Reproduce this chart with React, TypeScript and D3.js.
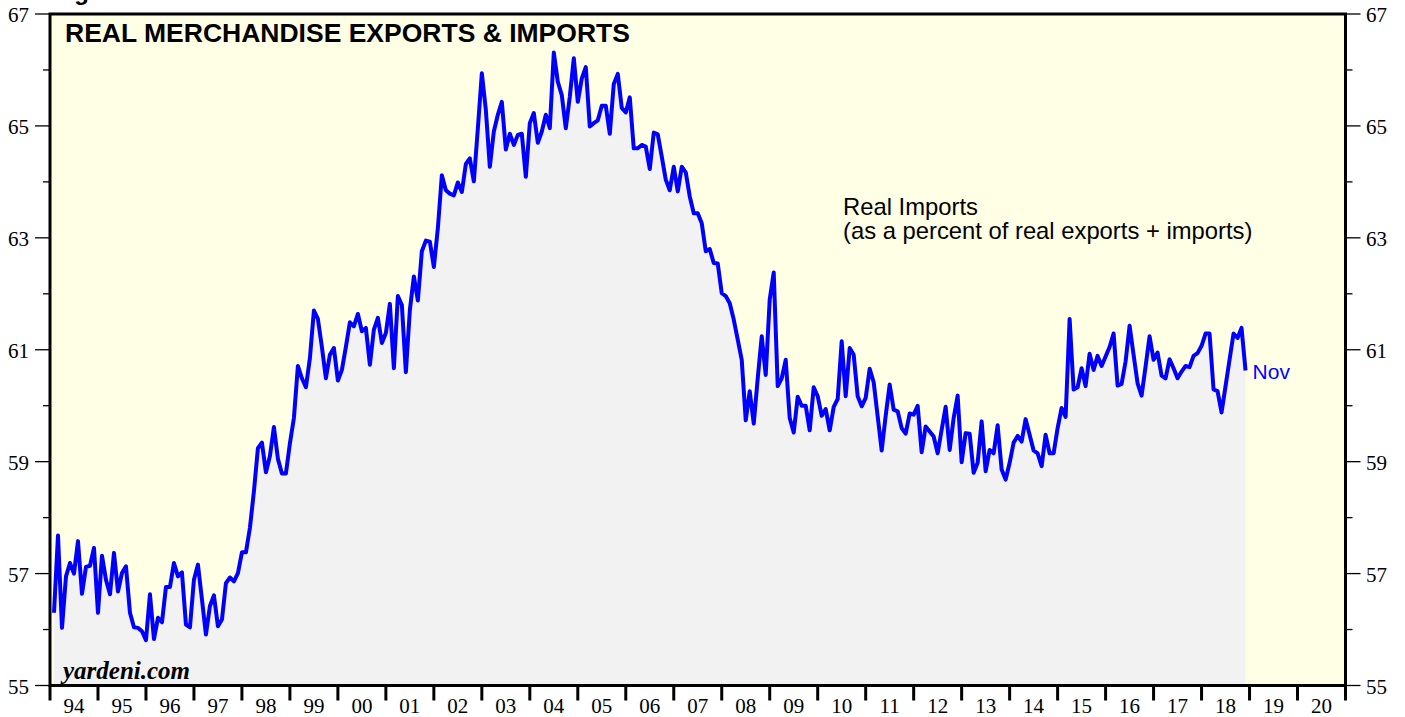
import React from "react";
import * as d3 from "d3";

// Real imports as % of real exports + imports, monthly Jan 1994 .. Nov 2018
const imports1994 = [56.30, 57.68, 56.03, 56.95, 57.19, 57.00, 57.58, 56.64, 57.12, 57.14, 57.46, 56.30];
const imports1995 = [57.32, 56.89, 56.63, 57.37, 56.68, 57.01, 57.13, 56.30, 56.04, 56.03, 55.97, 55.81];
const imports1996 = [56.63, 55.83, 56.21, 56.13, 56.76, 56.76, 57.19, 56.95, 57.02, 56.09, 56.04, 56.89];
const imports1997 = [57.16, 56.54, 55.91, 56.42, 56.61, 56.06, 56.18, 56.83, 56.93, 56.86, 57.01, 57.38];
const imports1998 = [57.38, 57.82, 58.47, 59.24, 59.34, 58.81, 59.10, 59.62, 59.05, 58.79, 58.79, 59.33];
const imports1999 = [59.78, 60.71, 60.49, 60.33, 60.85, 61.70, 61.55, 61.05, 60.49, 60.91, 61.03, 60.45];
const imports2000 = [60.64, 61.05, 61.49, 61.42, 61.64, 61.33, 61.39, 60.73, 61.36, 61.57, 61.12, 61.30];
const imports2001 = [61.82, 60.67, 61.96, 61.80, 60.60, 61.71, 62.31, 61.88, 62.76, 62.95, 62.93, 62.48];
const imports2002 = [63.17, 64.12, 63.85, 63.79, 63.76, 63.99, 63.82, 64.32, 64.42, 64.01, 64.95, 65.94];
const imports2003 = [65.29, 64.27, 64.90, 65.20, 65.43, 64.58, 64.86, 64.66, 64.84, 64.86, 64.09, 65.05];
const imports2004 = [65.23, 64.70, 64.90, 65.20, 64.96, 66.31, 65.79, 65.55, 64.96, 65.52, 66.21, 65.43];
const imports2005 = [65.85, 66.05, 64.99, 65.05, 65.10, 65.36, 65.36, 64.86, 65.75, 65.93, 65.32, 65.24];
const imports2006 = [65.51, 64.60, 64.60, 64.66, 64.63, 64.23, 64.88, 64.85, 64.45, 64.04, 63.85, 64.27];
const imports2007 = [63.83, 64.27, 64.17, 63.74, 63.44, 63.44, 63.26, 62.76, 62.80, 62.55, 62.54, 62.01];
const imports2008 = [61.96, 61.83, 61.54, 61.18, 60.82, 59.74, 60.26, 59.68, 60.49, 61.24, 60.55, 61.90];
const imports2009 = [62.38, 60.35, 60.49, 60.82, 59.78, 59.52, 60.16, 60.00, 60.00, 59.56, 60.33, 60.17];
const imports2010 = [59.82, 59.94, 59.56, 59.98, 60.12, 61.15, 60.17, 61.03, 60.91, 60.17, 59.99, 60.14];
const imports2011 = [60.66, 60.42, 59.81, 59.20, 59.82, 60.38, 59.93, 59.90, 59.60, 59.50, 59.86, 59.84];
const imports2012 = [60.00, 59.17, 59.63, 59.54, 59.45, 59.15, 59.57, 59.98, 59.21, 59.78, 60.18, 58.99];
const imports2013 = [59.51, 59.50, 58.80, 58.98, 59.72, 58.83, 59.21, 59.15, 59.65, 58.86, 58.68, 58.98];
const imports2014 = [59.34, 59.46, 59.36, 59.76, 59.48, 59.20, 59.15, 58.92, 59.48, 59.15, 59.15, 59.60];
const imports2015 = [59.96, 59.80, 61.55, 60.29, 60.33, 60.67, 60.35, 60.93, 60.64, 60.89, 60.71, 60.88];
const imports2016 = [61.05, 61.29, 60.36, 60.39, 60.79, 61.43, 60.91, 60.40, 60.18, 60.70, 61.24, 60.82];
const imports2017 = [60.95, 60.54, 60.49, 60.83, 60.67, 60.49, 60.61, 60.71, 60.69, 60.89, 60.94, 61.07];
const imports2018 = [61.29, 61.29, 60.29, 60.26, 59.88, 60.35, 60.82, 61.29, 61.21, 61.39, 60.63];

const yearLabels = ["94", "95", "96", "97", "98", "99", "00", "01", "02", "03", "04", "05", "06", "07",
  "08", "09", "10", "11", "12", "13", "14", "15", "16", "17", "18", "19", "20"];
const yTicks = [55, 56, 57, 58, 59, 60, 61, 62, 63, 64, 65, 66, 67];
const yLabels = [55, 57, 59, 61, 63, 65, 67];

const allValues = [
  ...imports1994, ...imports1995, ...imports1996, ...imports1997, ...imports1998,
  ...imports1999, ...imports2000, ...imports2001, ...imports2002, ...imports2003,
  ...imports2004, ...imports2005, ...imports2006, ...imports2007, ...imports2008,
  ...imports2009, ...imports2010, ...imports2011, ...imports2012, ...imports2013,
  ...imports2014, ...imports2015, ...imports2016, ...imports2017, ...imports2018,
];

export default function App() {
  const W = 1405, H = 717;
  const L = 50, R = 1345.5, T = 14, B = 685.5;
  const x = d3.scaleLinear().domain([1994, 2021]).range([L, R]);
  const y = d3.scaleLinear().domain([55, 67]).range([B, T]);
  const data = allValues.map((v, i) => ({ t: 1994 + (i + 1) / 12, v }));
  const line = d3.line<any>().x((d) => x(d.t)).y((d) => y(d.v));
  const area = d3.area<any>().x((d) => x(d.t)).y0(y(55)).y1((d) => y(d.v));
  const last = data[data.length - 1];
  const sans = "'Liberation Sans', Arial, sans-serif";
  const serif = "'Liberation Serif', 'Times New Roman', serif";

  return (
    <svg width={W} height={H} style={{ position: "absolute", left: 0, top: 0, background: "#fff" }}>
      <text x={53} y={0} fontFamily={sans} fontWeight="bold" fontSize={24} fill="#000">Figure</text>
      <rect x={L} y={T} width={R - L} height={B - T} fill="#FFFFE6" />
      <path d={area(data) || ""} fill="#F2F2F2" />
      <path d={line(data) || ""} fill="none" stroke="#0000FF" strokeWidth={4} strokeLinejoin="round" />

      {/* y ticks both sides */}
      {yTicks.map((v) => {
        const len = v % 2 === 1 ? 15 : 7;
        return (
          <g key={v}>
            <line x1={L - len} x2={L} y1={y(v)} y2={y(v)} stroke="#000" strokeWidth={1.3} />
            <line x1={R} x2={R + len} y1={y(v)} y2={y(v)} stroke="#000" strokeWidth={1.3} />
          </g>
        );
      })}
      {yLabels.map((v) => (
        <g key={"l" + v}>
          <text x={29} y={y(v) + 8} textAnchor="end" fontFamily={serif} fontSize={21} fill="#000">{v}</text>
          <text x={1366} y={y(v) + 8} textAnchor="start" fontFamily={serif} fontSize={21} fill="#000">{v}</text>
        </g>
      ))}

      {/* x ticks */}
      {d3.range(1994, 2022).map((yr) => (
        <line key={"t" + yr} x1={x(yr)} x2={x(yr)} y1={B} y2={B + 15} stroke="#000" strokeWidth={3} />
      ))}
      {yearLabels.map((lab, i) => (
        <text key={"x" + lab} x={x(1994 + i + 0.5)} y={713} textAnchor="middle" fontFamily={serif} fontSize={21} fill="#000">{lab}</text>
      ))}

      {/* frame */}
      <rect x={L} y={T} width={R - L} height={B - T} fill="none" stroke="#000" strokeWidth={3} />

      <text x={65} y={42} fontFamily={sans} fontWeight="bold" fontSize={26.5} fill="#000">REAL MERCHANDISE EXPORTS &amp; IMPORTS</text>
      <text x={843} y={215} fontFamily={sans} fontSize={23.8} fill="#000">Real Imports</text>
      <text x={843} y={239} fontFamily={sans} fontSize={23.8} fill="#000">(as a percent of real exports + imports)</text>
      <text x={x(last.t) + 7} y={y(last.v) + 9} fontFamily={sans} fontSize={21} fill="#0000FF">Nov</text>
      <text x={63} y={679} fontFamily={serif} fontWeight="bold" fontStyle="italic" fontSize={25} fill="#000">yardeni.com</text>
    </svg>
  );
}
